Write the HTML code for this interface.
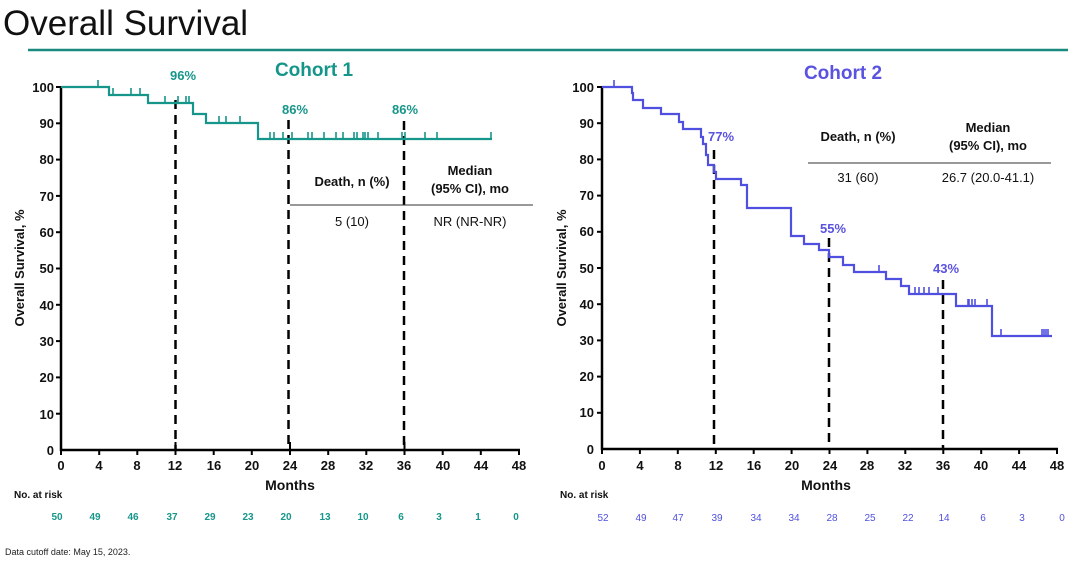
<!DOCTYPE html>
<html><head><meta charset="utf-8"><style>
html,body{margin:0;padding:0;background:#fff;}
svg{display:block;font-family:"Liberation Sans",Arial,sans-serif;}
</style></head><body>
<svg width="1080" height="563" viewBox="0 0 1080 563" xmlns="http://www.w3.org/2000/svg">
<text x="3" y="35" font-size="35" fill="#111">Overall Survival</text>
<line x1="28" y1="50" x2="1068" y2="50" stroke="#1a8a80" stroke-width="2.5"/>

<!-- LEFT CHART -->
<text x="314" y="76" font-size="19" font-weight="bold" fill="#16968a" text-anchor="middle">Cohort 1</text>
<g stroke="#000" stroke-width="2.5" fill="none">
<line x1="61" y1="86" x2="61" y2="451"/>
<line x1="60" y1="450" x2="520" y2="450"/>
</g>
<g stroke="#000" stroke-width="2">
<line x1="56" y1="87" x2="61" y2="87"/><line x1="56" y1="123.3" x2="61" y2="123.3"/><line x1="56" y1="159.6" x2="61" y2="159.6"/><line x1="56" y1="195.9" x2="61" y2="195.9"/><line x1="56" y1="232.2" x2="61" y2="232.2"/><line x1="56" y1="268.5" x2="61" y2="268.5"/><line x1="56" y1="304.8" x2="61" y2="304.8"/><line x1="56" y1="341.1" x2="61" y2="341.1"/><line x1="56" y1="377.4" x2="61" y2="377.4"/><line x1="56" y1="413.7" x2="61" y2="413.7"/>
<line x1="61" y1="450" x2="61" y2="455"/><line x1="99.2" y1="450" x2="99.2" y2="455"/><line x1="137.3" y1="450" x2="137.3" y2="455"/><line x1="175.5" y1="442" x2="175.5" y2="455"/><line x1="213.7" y1="450" x2="213.7" y2="455"/><line x1="251.8" y1="450" x2="251.8" y2="455"/><line x1="290" y1="442" x2="290" y2="455"/><line x1="328.2" y1="450" x2="328.2" y2="455"/><line x1="366.3" y1="450" x2="366.3" y2="455"/><line x1="404.5" y1="442" x2="404.5" y2="455"/><line x1="442.7" y1="450" x2="442.7" y2="455"/><line x1="480.8" y1="450" x2="480.8" y2="455"/><line x1="519" y1="450" x2="519" y2="455"/>
</g>
<g font-size="13" font-weight="bold" fill="#111" text-anchor="end">
<text x="54" y="92">100</text><text x="54" y="128">90</text><text x="54" y="164">80</text><text x="54" y="201">70</text><text x="54" y="237">60</text><text x="54" y="273">50</text><text x="54" y="310">40</text><text x="54" y="346">30</text><text x="54" y="382">20</text><text x="54" y="419">10</text><text x="54" y="455">0</text>
</g>
<g font-size="13" font-weight="bold" fill="#111" text-anchor="middle">
<text x="61" y="470">0</text><text x="99" y="470">4</text><text x="137" y="470">8</text><text x="175" y="470">12</text><text x="214" y="470">16</text><text x="252" y="470">20</text><text x="290" y="470">24</text><text x="328" y="470">28</text><text x="366" y="470">32</text><text x="404" y="470">36</text><text x="443" y="470">40</text><text x="481" y="470">44</text><text x="519" y="470">48</text>
<text x="290" y="490" font-size="14">Months</text>
</g>
<text transform="translate(24,268) rotate(-90)" font-size="13" font-weight="bold" text-anchor="middle" fill="#111">Overall Survival, %</text>
<g stroke="#000" stroke-width="2.5" stroke-dasharray="9,6">
<line x1="175.5" y1="100" x2="175.5" y2="450"/>
<line x1="288.5" y1="120" x2="288.5" y2="450"/>
<line x1="404" y1="121" x2="404" y2="450"/>
</g>
<g font-size="13" font-weight="bold" fill="#16968a" text-anchor="middle">
<text x="183" y="80">96%</text><text x="295" y="114">86%</text><text x="405" y="114">86%</text>
</g>
<polyline fill="none" stroke="#16968a" stroke-width="2.2" points="61,87 109,87 109,95 148,95 148,103 193,103 193,114 206,114 206,123 258,123 258,139 492,139"/>
<g stroke="#16968a" stroke-width="1.6">
<path d="M98,87v-7 M113,95v-7 M131,95v-7 M140,95v-7 M165,103v-7 M178,103v-7 M186,103v-7 M189,103v-7 M219,123v-7 M226,123v-7 M240,123v-7 M270,139v-7 M274,139v-7 M283,139v-7 M292,139v-7 M308,139v-7 M312,139v-7 M324,139v-7 M336,139v-7 M343,139v-7 M354,139v-7 M357,139v-7 M363,139v-7 M365,139v-7 M368,139v-7 M378,139v-7 M402,139v-7 M405,139v-7 M425,139v-7 M437,139v-7 M491,139v-7"/>
</g>
<text x="352" y="186" font-size="13" font-weight="bold" fill="#111" text-anchor="middle">Death, n (%)</text>
<text x="470" y="175" font-size="13" font-weight="bold" fill="#111" text-anchor="middle">Median</text>
<text x="470" y="193" font-size="13" font-weight="bold" fill="#111" text-anchor="middle">(95% CI), mo</text>
<line x1="290" y1="205" x2="533" y2="205" stroke="#333" stroke-width="1"/>
<text x="352" y="226" font-size="13" fill="#111" text-anchor="middle">5 (10)</text>
<text x="470" y="226" font-size="13" fill="#111" text-anchor="middle">NR (NR-NR)</text>
<text x="14" y="498" font-size="10" font-weight="bold" fill="#111">No. at risk</text>
<g font-size="10" font-weight="bold" fill="#16968a" text-anchor="middle">
<text x="57" y="520">50</text><text x="95" y="520">49</text><text x="133" y="520">46</text><text x="172" y="520">37</text><text x="210" y="520">29</text><text x="248" y="520">23</text><text x="286" y="520">20</text><text x="325" y="520">13</text><text x="363" y="520">10</text><text x="401" y="520">6</text><text x="439" y="520">3</text><text x="478" y="520">1</text><text x="516" y="520">0</text>
</g>
<text x="5" y="555" font-size="9" fill="#222">Data cutoff date: May 15, 2023.</text>

<!-- RIGHT CHART -->
<text x="843" y="79" font-size="19" font-weight="bold" fill="#5a52e0" text-anchor="middle">Cohort 2</text>
<g stroke="#000" stroke-width="2.5" fill="none">
<line x1="602" y1="86" x2="602" y2="450"/>
<line x1="601" y1="449" x2="1058" y2="449"/>
</g>
<g stroke="#000" stroke-width="2">
<line x1="597" y1="87" x2="602" y2="87"/><line x1="597" y1="123.2" x2="602" y2="123.2"/><line x1="597" y1="159.4" x2="602" y2="159.4"/><line x1="597" y1="195.6" x2="602" y2="195.6"/><line x1="597" y1="231.8" x2="602" y2="231.8"/><line x1="597" y1="268" x2="602" y2="268"/><line x1="597" y1="304.2" x2="602" y2="304.2"/><line x1="597" y1="340.4" x2="602" y2="340.4"/><line x1="597" y1="376.6" x2="602" y2="376.6"/><line x1="597" y1="412.8" x2="602" y2="412.8"/>
<line x1="602" y1="449" x2="602" y2="454"/><line x1="639.9" y1="449" x2="639.9" y2="454"/><line x1="677.8" y1="449" x2="677.8" y2="454"/><line x1="715.8" y1="449" x2="715.8" y2="454"/><line x1="753.7" y1="449" x2="753.7" y2="454"/><line x1="791.6" y1="449" x2="791.6" y2="454"/><line x1="829.5" y1="449" x2="829.5" y2="454"/><line x1="867.4" y1="449" x2="867.4" y2="454"/><line x1="905.3" y1="449" x2="905.3" y2="454"/><line x1="943.3" y1="449" x2="943.3" y2="454"/><line x1="981.2" y1="449" x2="981.2" y2="454"/><line x1="1019.1" y1="449" x2="1019.1" y2="454"/><line x1="1057" y1="449" x2="1057" y2="454"/>
</g>
<g font-size="13" font-weight="bold" fill="#111" text-anchor="end">
<text x="594" y="92">100</text><text x="594" y="128">90</text><text x="594" y="164">80</text><text x="594" y="200">70</text><text x="594" y="236">60</text><text x="594" y="273">50</text><text x="594" y="309">40</text><text x="594" y="345">30</text><text x="594" y="381">20</text><text x="594" y="417">10</text><text x="594" y="454">0</text>
</g>
<g font-size="13" font-weight="bold" fill="#111" text-anchor="middle">
<text x="602" y="470">0</text><text x="640" y="470">4</text><text x="678" y="470">8</text><text x="716" y="470">12</text><text x="754" y="470">16</text><text x="792" y="470">20</text><text x="830" y="470">24</text><text x="867" y="470">28</text><text x="905" y="470">32</text><text x="943" y="470">36</text><text x="981" y="470">40</text><text x="1019" y="470">44</text><text x="1057" y="470">48</text>
<text x="826" y="490" font-size="14">Months</text>
</g>
<text transform="translate(566,268) rotate(-90)" font-size="13" font-weight="bold" text-anchor="middle" fill="#111">Overall Survival, %</text>
<g stroke="#000" stroke-width="2.5" stroke-dasharray="9,6">
<line x1="714" y1="150" x2="714" y2="449"/>
<line x1="829" y1="238" x2="829" y2="449"/>
<line x1="943" y1="280" x2="943" y2="449"/>
</g>
<g font-size="13" font-weight="bold" fill="#5a52e0" text-anchor="middle">
<text x="721" y="141">77%</text><text x="833" y="233">55%</text><text x="946" y="273">43%</text>
</g>
<polyline fill="none" stroke="#5050e0" stroke-width="2.2" points="602,87 632,87 632,93 633,93 633,100 643,100 643,108 661,108 661,114 679,114 679,122 683,122 683,129 701,129 701,137 703,137 703,144 706,144 706,155 708,155 708,165 714,165 714,172 716,172 716,179 741,179 741,185 747,185 747,208 791,208 791,236 804,236 804,244 819,244 819,250 829,250 829,257 843,257 843,265 854,265 854,272 886,272 886,279 901,279 901,286 909,286 909,294 956,294 956,306 992,306 992,336 1052,336"/>
<g stroke="#5050e0" stroke-width="1.6">
<path d="M614,87v-7 M879,272v-7 M915,294v-7 M919,294v-7 M924,294v-7 M929,294v-7 M938,294v-7 M968,306v-7 M969,306v-7 M972,306v-7 M975,306v-7 M987,306v-7 M1001,336v-7 M1042,336v-7 M1044,336v-7 M1046,336v-7 M1048,336v-7"/>
</g>
<text x="858" y="141" font-size="13" font-weight="bold" fill="#111" text-anchor="middle">Death, n (%)</text>
<text x="988" y="132" font-size="13" font-weight="bold" fill="#111" text-anchor="middle">Median</text>
<text x="988" y="150" font-size="13" font-weight="bold" fill="#111" text-anchor="middle">(95% CI), mo</text>
<line x1="808" y1="163" x2="1051" y2="163" stroke="#333" stroke-width="1"/>
<text x="858" y="182" font-size="13" fill="#111" text-anchor="middle">31 (60)</text>
<text x="988" y="182" font-size="13" fill="#111" text-anchor="middle">26.7 (20.0-41.1)</text>
<text x="560" y="498" font-size="10" font-weight="bold" fill="#111">No. at risk</text>
<g font-size="10" fill="#5050e0" text-anchor="middle">
<text x="603" y="521">52</text><text x="641" y="521">49</text><text x="678" y="521">47</text><text x="717" y="521">39</text><text x="756" y="521">34</text><text x="794" y="521">34</text><text x="832" y="521">28</text><text x="870" y="521">25</text><text x="908" y="521">22</text><text x="944" y="521">14</text><text x="983" y="521">6</text><text x="1022" y="521">3</text><text x="1062" y="521">0</text>
</g>
</svg>
</body></html>
